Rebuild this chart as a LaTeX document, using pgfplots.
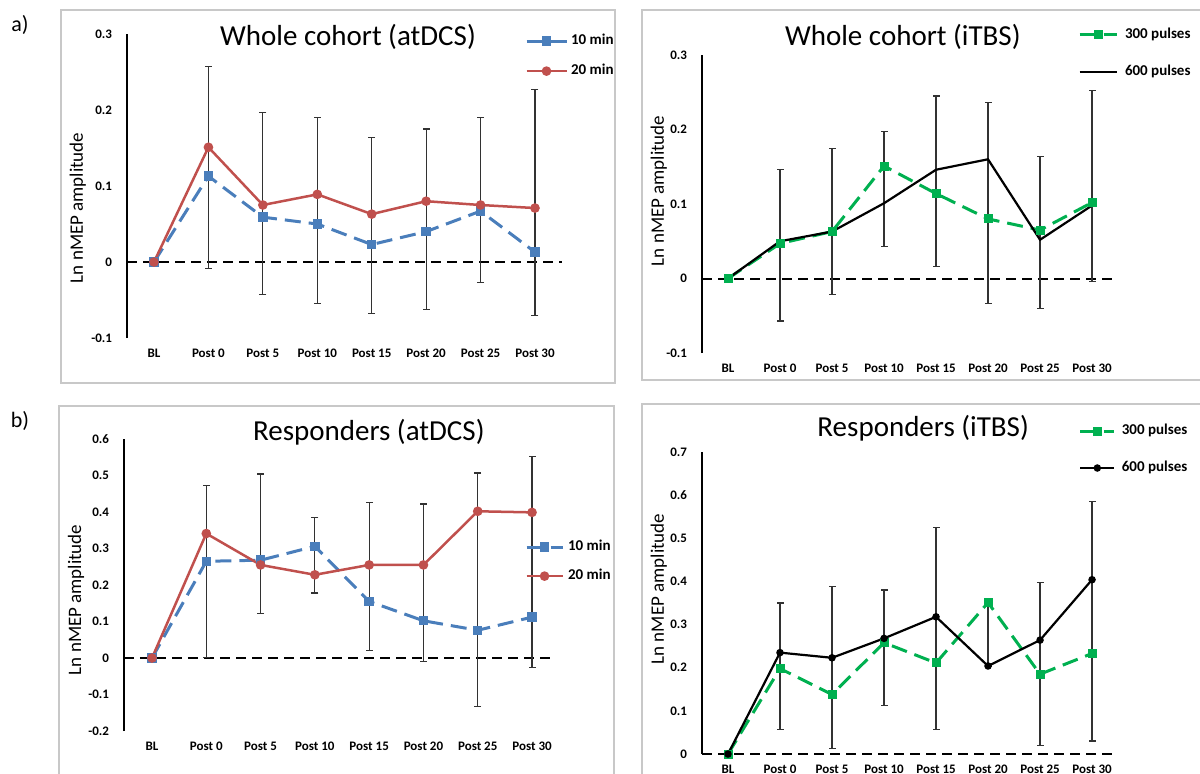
\documentclass[border=0pt]{standalone}
\usepackage{pgfplots}
\pgfplotsset{compat=1.18}
\usepackage{fontspec}
\setmainfont{Carlito}
\definecolor{cblue}{RGB}{74,126,187}
\definecolor{cred}{RGB}{192,80,77}
\definecolor{cgreen}{RGB}{0,176,80}
\definecolor{errc}{RGB}{50,50,50}
\definecolor{frame}{RGB}{200,200,200}
\newcommand\leglen{20pt}
\pgfplotsset{
 panel/.style={
  scale only axis, anchor=south west,
  axis lines*=left, axis line style={-},
  x axis line style={draw=none},
  y axis line style={line width=1.3pt,black},
  major tick length=0pt,
  xtick={0,...,7},
  xticklabels={BL,Post 0,Post 5,Post 10,Post 15,Post 20,Post 25,Post 30},
  ticklabel style={font=\bfseries\fontsize{6.5}{7}\selectfont},
  xticklabel style={yshift=-2pt},
  yticklabel style={xshift=-4pt},
  clip=false,
  legend image code/.code={\draw[mark repeat=2,mark phase=2] plot coordinates {(0pt,0pt) (0.5*\leglen,0pt) (\leglen,0pt)};},
  legend cell align=left,
  legend style={draw=none, fill=none, inner sep=0pt, outer sep=0pt,
    font=\bfseries\fontsize{7.5}{8}\selectfont,
    nodes={inner sep=0pt, text height=5pt, text depth=1.5pt}},
 },
 zline/.style={forget plot, black, line width=1pt, dash pattern=on 5pt off 3pt},
 errb/.style={forget plot, errc, line width=0.6pt, solid, unbounded coords=jump,
   mark=-, mark size=1.75pt, mark options={solid, line width=0.6pt, draw=errc}},
 sblue/.style={cblue, line width=1.5pt, dash pattern=on 8pt off 4pt, mark=square*, mark size=1.6pt, mark options={solid}},
 sred/.style={cred, line width=1.25pt, mark=*, mark size=1.75pt},
 sgreen/.style={cgreen, line width=1.5pt, dash pattern=on 8pt off 4pt, mark=square*, mark size=1.5pt, mark options={solid}},
 sblack/.style={black, line width=1.1pt},
}
\begin{document}
\begin{tikzpicture}[x=1pt,y=1pt]
\path[use as bounding box] (0pt,0pt) rectangle (600pt,386.5pt);
\draw[frame, line width=0.6pt] (30.5pt,381.5pt) rectangle (307.5pt,195pt);
\draw[frame, line width=0.6pt] (321pt,381.5pt) rectangle (610pt,196.5pt);
\draw[frame, line width=0.6pt] (29.5pt,183.5pt) rectangle (307pt,-5pt);
\draw[frame, line width=0.6pt] (321pt,184.5pt) rectangle (610pt,-5pt);
\node[font=\fontsize{11}{13}\selectfont] at (10pt,374pt) {a)};
\node[font=\fontsize{11}{13}\selectfont] at (10pt,176pt) {b)};

% Panel 1
\renewcommand\leglen{20pt}
\begin{axis}[panel, at={(63.5pt,217.5pt)}, width=217.5pt, height=152pt,
  xmin=-0.496, xmax=7.496, ymin=-0.1, ymax=0.3,
  ytick={-0.1,0,0.1,0.2,0.3}, yticklabels={-0.1,0,0.1,0.2,0.3},
  legend style={at={(rel axis cs:0.915,0.998)}, anchor=north west, row sep=8.5pt, column sep=1.5pt}]
\addplot[zline] coordinates {(-0.496,0) (7.496,0)};
\addplot[errb] coordinates {(1,-0.009) (1,0.257) (1,nan) (2,-0.043) (2,0.197) (2,nan) (3,-0.055) (3,0.190) (3,nan) (4,-0.068) (4,0.164) (4,nan) (5,-0.063) (5,0.175) (5,nan) (6,-0.027) (6,0.190) (6,nan) (7,-0.070) (7,0.227)};
\addplot[sblue] coordinates {(0,0) (1,0.113) (2,0.059) (3,0.050) (4,0.023) (5,0.040) (6,0.067) (7,0.013)};
\addlegendentry{10 min}
\addplot[sred] coordinates {(0,0) (1,0.151) (2,0.075) (3,0.089) (4,0.063) (5,0.080) (6,0.075) (7,0.071)};
\addlegendentry{20 min}
\node[font=\fontsize{14.5}{17}\selectfont] at (rel axis cs:0.508,0.990) {Whole cohort (atDCS)};
\node[rotate=90, font=\fontsize{9.5}{11}\selectfont] at (rel axis cs:-0.113,0.428) {Ln nMEP amplitude};
\end{axis}

% Panel 2
\renewcommand\leglen{18.5pt}
\begin{axis}[panel, at={(351pt,210pt)}, width=207.5pt, height=149pt,
  xmin=-0.5, xmax=7.48, ymin=-0.1, ymax=0.3,
  ytick={-0.1,0,0.1,0.2,0.3}, yticklabels={-0.1,0,0.1,0.2,0.3},
  legend style={at={(rel axis cs:0.906,1.089)}, anchor=north west, row sep=12pt, column sep=3.5pt}]
\addplot[zline] coordinates {(-0.5,0) (7.48,0)};
\addplot[errb] coordinates {(1,-0.057) (1,0.146) (1,nan) (2,-0.021) (2,0.174) (2,nan) (3,0.043) (3,0.197) (3,nan) (4,0.016) (4,0.245) (4,nan) (5,-0.034) (5,0.236) (5,nan) (6,-0.040) (6,0.164) (6,nan) (7,-0.004) (7,0.252)};
\addplot[sgreen] coordinates {(0,0) (1,0.047) (2,0.063) (3,0.151) (4,0.114) (5,0.080) (6,0.065) (7,0.102)};
\addlegendentry{300 pulses}
\addplot[sblack] coordinates {(0,0) (1,0.050) (2,0.063) (3,0.101) (4,0.146) (5,0.160) (6,0.052) (7,0.098)};
\addlegendentry{600 pulses}
\node[font=\fontsize{14.5}{17}\selectfont] at (rel axis cs:0.484,1.060) {Whole cohort (iTBS)};
\node[rotate=90, font=\fontsize{9.5}{11}\selectfont] at (rel axis cs:-0.104,0.544) {Ln nMEP amplitude};
\end{axis}

% Panel 3
\renewcommand\leglen{18pt}
\begin{axis}[panel, at={(62pt,21pt)}, width=214pt, height=146pt,
  xmin=-0.516, xmax=7.368, ymin=-0.2, ymax=0.6,
  ytick={-0.2,-0.1,0,0.1,0.2,0.3,0.4,0.5,0.6}, yticklabels={-0.2,-0.1,0,0.1,0.2,0.3,0.4,0.5,0.6},
  legend style={at={(rel axis cs:0.937,0.652)}, anchor=north west, row sep=8pt, column sep=2pt}]
\addplot[zline] coordinates {(-0.516,0) (7.368,0)};
\addplot[errb] coordinates {(1,0.002) (1,0.472) (1,nan) (2,0.121) (2,0.504) (2,nan) (3,0.178) (3,0.384) (3,nan) (4,0.021) (4,0.426) (4,nan) (5,-0.009) (5,0.422) (5,nan) (6,-0.132) (6,0.507) (6,nan) (7,-0.026) (7,0.551)};
\addplot[sblue] coordinates {(0,0) (1,0.265) (2,0.268) (3,0.306) (4,0.155) (5,0.102) (6,0.076) (7,0.112)};
\addlegendentry{10 min}
\addplot[sred] coordinates {(0,0) (1,0.341) (2,0.255) (3,0.228) (4,0.255) (5,0.255) (6,0.402) (7,0.399)};
\addlegendentry{20 min}
\node[font=\fontsize{14.5}{17}\selectfont] at (rel axis cs:0.572,1.024) {Responders (atDCS)};
\node[rotate=90, font=\fontsize{9.5}{11}\selectfont] at (rel axis cs:-0.112,0.449) {Ln nMEP amplitude};
\end{axis}

% Panel 4
\renewcommand\leglen{17pt}
\begin{axis}[panel, at={(351pt,9.5pt)}, width=207.5pt, height=151pt,
  xmin=-0.5, xmax=7.48, ymin=0, ymax=0.7,
  ytick={0,0.1,0.2,0.3,0.4,0.5,0.6,0.7}, yticklabels={0,0.1,0.2,0.3,0.4,0.5,0.6,0.7},
  legend style={at={(rel axis cs:0.908,1.091)}, anchor=north west, row sep=12pt, column sep=3pt}]
\addplot[zline] coordinates {(-0.5,0) (7.48,0)};
\addplot[errb] coordinates {(1,0.056) (1,0.350) (1,nan) (2,0.012) (2,0.388) (2,nan) (3,0.113) (3,0.380) (3,nan) (4,0.056) (4,0.525) (4,nan) (5,0.204) (5,0.351) (5,nan) (6,0.019) (6,0.397) (6,nan) (7,0.030) (7,0.586)};
\addplot[sgreen] coordinates {(0,0) (1,0.198) (2,0.138) (3,0.258) (4,0.211) (5,0.351) (6,0.185) (7,0.233)};
\addlegendentry{300 pulses}
\addplot[sblack, mark=*, mark size=1.3pt] coordinates {(0,0) (1,0.235) (2,0.223) (3,0.268) (4,0.318) (5,0.204) (6,0.264) (7,0.404)};
\addlegendentry{600 pulses}
\node[font=\fontsize{14.5}{17}\selectfont] at (rel axis cs:0.533,1.079) {Responders (iTBS)};
\node[rotate=90, font=\fontsize{9.5}{11}\selectfont] at (rel axis cs:-0.104,0.546) {Ln nMEP amplitude};
\end{axis}
\end{tikzpicture}
\end{document}
